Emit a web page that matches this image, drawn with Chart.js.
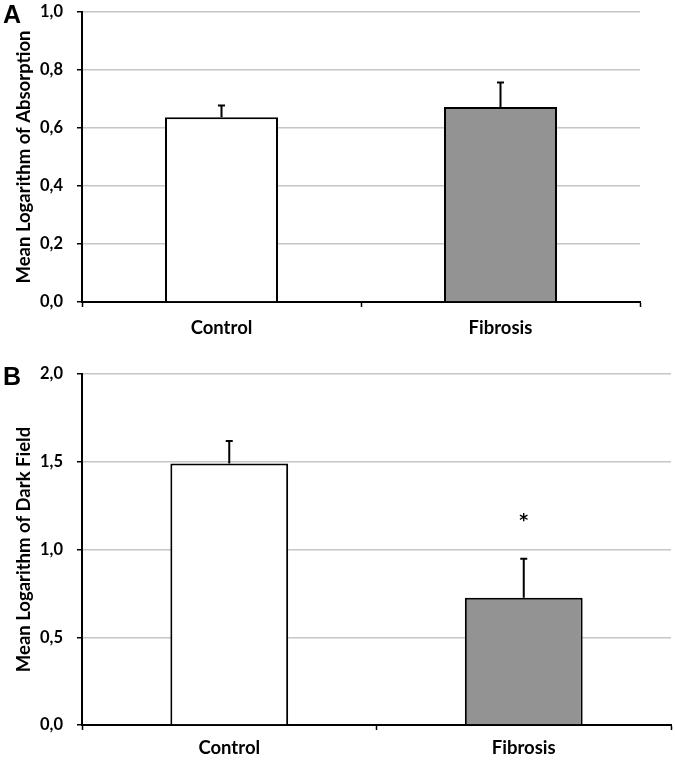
<!DOCTYPE html>
<html>
<head>
<meta charset="utf-8">
<script src="https://cdn.jsdelivr.net/npm/chart.js@4.4.1/dist/chart.umd.min.js"></script>
<style>
  html, body { margin: 0; padding: 0; background: #fff; }
  #wrap { position: relative; width: 675px; height: 761px; overflow: hidden; }
  canvas { position: absolute; left: 0; }
  .panel { position: absolute; left: 3px; font: bold 25px "Liberation Sans", Arial, sans-serif; line-height: 1; color: #000; }
</style>
</head>
<body>
<div id="wrap">
  <canvas id="cA" width="675" height="345" style="top:0px;width:675px;height:345px"></canvas>
  <canvas id="cB" width="675" height="416" style="top:345px;width:675px;height:416px"></canvas>
  <div class="panel" style="top:2px">A</div>
  <div class="panel" style="top:364px">B</div>
</div>
<script>
// ---- data ----
const categories = ['Control', 'Fibrosis'];
const absorptionMeans = [0.637, 0.672];
const absorptionErrors = [0.041, 0.085];
const darkFieldMeans = [1.49, 0.725];
const darkFieldErrors = [0.128, 0.223];
const darkFieldStars = [null, 1.19];   // level of the significance marker
const yTicksA = ['0,0', '0,2', '0,4', '0,6', '0,8', '1,0'];
const yTicksB = ['0,0', '0,5', '1,0', '1,5', '2,0'];
const barColors = ['#ffffff', '#939393'];

const FONT = 'Lato, "Open Sans", sans-serif';

const errorBarPlugin = {
  id: 'errorBars',
  afterDatasetsDraw(chart, args, opts) {
    const ctx = chart.ctx;
    const meta = chart.getDatasetMeta(0);
    const ys = chart.scales.y;
    ctx.save();
    meta.data.forEach((bar, i) => {
      const v = chart.data.datasets[0].data[i];
      const e = opts.errors[i];
      const yTop = ys.getPixelForValue(v + e);
      const yBase = ys.getPixelForValue(v);
      ctx.strokeStyle = '#000';
      ctx.lineWidth = 2;
      ctx.beginPath();
      ctx.moveTo(bar.x, yBase);
      ctx.lineTo(bar.x, yTop);
      ctx.moveTo(bar.x - 3.5, yTop);
      ctx.lineTo(bar.x + 3.5, yTop);
      ctx.stroke();
      if (opts.stars && opts.stars[i] != null) {
        ctx.fillStyle = '#000';
        ctx.font = 'bold 17px "DejaVu Sans", sans-serif';
        ctx.textAlign = 'center';
        ctx.textBaseline = 'alphabetic';
        ctx.fillText('*', bar.x, ys.getPixelForValue(opts.stars[i]) + 10);
      }
    });
    ctx.restore();
  }
};

function makeChart(id, cfg) {
  const canvasH = cfg.canvasH;
  return new Chart(document.getElementById(id), {
    type: 'bar',
    data: {
      labels: categories,
      datasets: [{
        data: cfg.values,
        backgroundColor: barColors,
        borderColor: '#000',
        borderWidth: 2,
        borderSkipped: 'start',
        barPercentage: cfg.barPct,
        categoryPercentage: 1.0
      }]
    },
    options: {
      responsive: false,
      devicePixelRatio: 1,
      animation: false,
      events: [],
      layout: { padding: { left: 0, right: 675 - cfg.right, top: cfg.top, bottom: 0 } },
      plugins: {
        legend: { display: false },
        tooltip: { enabled: false },
        errorBars: { errors: cfg.errors, stars: cfg.stars }
      },
      scales: {
        x: {
          grid: { display: true, drawOnChartArea: false, drawTicks: true, tickLength: 5, tickColor: '#000', tickWidth: 1.5, offset: true },
          border: { display: true, color: '#000', width: 2 },
          ticks: { color: '#000', font: { family: FONT, size: 18.5, weight: 'bold' }, padding: cfg.xPad, maxRotation: 0 },
          afterFit(scale) { scale.height = canvasH - cfg.bottom; scale.paddingLeft = 0; scale.paddingRight = 0; }
        },
        y: {
          min: 0, max: cfg.max,
          ticks: {
            stepSize: cfg.step,
            color: '#000',
            font: { family: FONT, size: 16.5, weight: 'bold' },
            padding: 14,
            callback: (v, i) => cfg.tickLabels[i]
          },
          grid: { color: '#c6c6c6', lineWidth: 1.5, tickColor: '#000', tickLength: 5, tickWidth: 1.5 },
          border: { display: true, color: '#000', width: 2 },
          title: {
            display: true, text: cfg.title, color: '#000',
            font: { family: FONT, size: 18.5, weight: 'bold' },
            padding: { top: 13, bottom: 0 }
          },
          afterFit(scale) { scale.width = 82; scale.paddingTop = 0; scale.paddingBottom = 0; }
        }
      }
    },
    plugins: [errorBarPlugin]
  });
}

makeChart('cA', {
  canvasH: 345, top: 12, bottom: 302, right: 640,
  values: absorptionMeans, errors: absorptionErrors, stars: null,
  max: 1.0, step: 0.2, tickLabels: yTicksA, barPct: 0.405, xPad: 10,
  title: 'Mean Logarithm of Absorption'
});

makeChart('cB', {
  canvasH: 416, top: 29, bottom: 380, right: 671,
  values: darkFieldMeans, errors: darkFieldErrors, stars: darkFieldStars,
  max: 2.0, step: 0.5, tickLabels: yTicksB, barPct: 0.40, xPad: 7,
  title: 'Mean Logarithm of Dark Field'
});
</script>
</body>
</html>
